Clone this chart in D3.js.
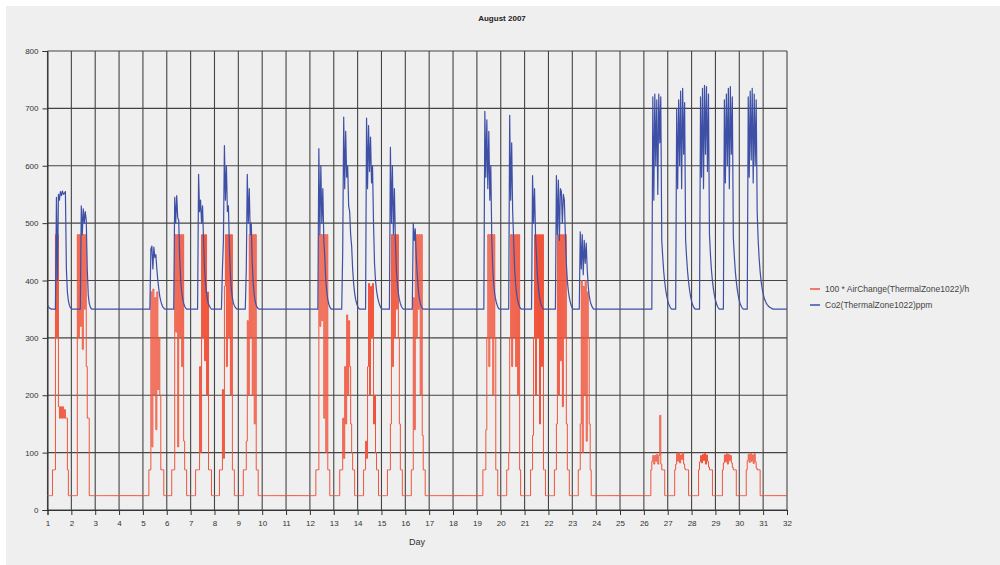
<!DOCTYPE html>
<html><head><meta charset="utf-8">
<script src="https://cdn.jsdelivr.net/npm/d3@7"></script>
<style>html,body{margin:0;padding:0;background:#fff;}svg{display:block;font-family:"Liberation Sans",Arial,sans-serif;}</style>
</head><body>
<svg id="chart" width="1000" height="565"></svg>
<script>
// ---- data ----
const title = "August 2007";
const xLabel = "Day";
const dayTicks = d3.range(1, 33);            // 1..32
const valueTicks = [0,100,200,300,400,500,600,700,800];
const seriesNames = ["100 * AirChange(ThermalZone1022)/h", "Co2(ThermalZone1022)ppm"];
const baseAir = 25;    // night level of 100*AirChange
const baseCo2 = 350;   // unoccupied CO2 level (ppm)

// occupied days, with hourly readings starting at the given hour of that day
const occupiedDays = [1,2,5,6,7,8,9,12,13,14,15,16,19,20,21,22,23,26,27,28,29,30];

const airStart = [5,6,6,5,5,5,5,6,6,6,6,6,6,6,6,6,6,7,7,7,7,7];
const airHourly = [
  [70,70,70,480,300,480,180,160,180,160,180,160,175,160,160,70],
  [480,300,480,320,480,280,480,350,480,250,160,160],
  [70,70,380,110,385,200,370,140,380,210,300,200,70,70,70],
  [70,70,70,480,310,480,110,480,300,480,250,480,120,70,70],
  [70,70,70,70,250,100,480,300,480,260,480,200,380,70,70,70],
  [70,70,70,210,90,390,480,250,480,300,480,200,480,70,70],
  [70,70,70,120,330,200,480,300,480,200,480,150,480,70,70],
  [70,70,70,480,320,480,330,480,160,480,100,480,70,70],
  [70,70,70,160,90,250,150,340,200,330,250,150,100,70,70],
  [70,70,120,90,250,395,200,390,300,395,150,200,100,70,70],
  [70,70,70,150,480,250,480,300,480,350,480,300,150,70,70],
  [70,70,370,140,480,300,480,350,480,200,480,130,70,70],
  [70,70,70,140,300,480,250,480,300,480,200,480,300,70,70],
  [70,70,100,300,480,250,480,300,480,250,480,200,480,70],
  [70,70,130,300,480,200,480,300,480,150,480,250,480,70,70],
  [70,70,150,480,200,480,260,480,180,480,300,480,150,70,70],
  [70,70,150,400,100,390,200,400,120,380,300,150,70],
  [70,85,95,80,95,85,97,80,95,165,80,70,70,70],
  [70,80,98,85,100,82,96,88,100,80,72,70,70,70],
  [70,84,95,82,97,86,99,80,96,85,75,70,70,70],
  [70,82,96,84,98,80,97,86,95,82,74,70,70,70],
  [70,86,97,83,99,85,96,81,98,84,73,70,70,70]
];

const co2Start = [0,9,7,7,7,7,7,8,8,8,8,7,7,8,7,7,7,8,8,8,8,8];
const co2Hourly = [
  [357,354,352,351,350,350,350,350,350,545,400,550,540,555,548,556,550,552,555,420,380,365,357,353,351],
  [350,530,480,525,500,520,505,420,375,360,354,351,350],
  [350,455,460,420,458,440,445,420,400,385,372,364,358,354,352,350],
  [350,545,500,548,510,505,440,400,380,368,360,355,352,350],
  [350,585,520,540,500,530,470,420,395,378,366,359,355,352,350],
  [350,420,470,635,540,600,520,530,460,410,385,370,361,356,353,351,350],
  [350,420,585,500,560,480,500,430,395,375,363,357,353,351,350],
  [350,630,480,600,500,560,470,440,400,380,367,359,354,351,350],
  [350,450,685,560,660,580,600,530,520,480,460,420,395,378,367,360,355,352,350],
  [350,683,560,670,590,650,570,600,500,430,400,383,372,364,358,354,351,350],
  [350,632,500,600,480,560,470,420,395,378,367,360,355,352,350],
  [350,500,470,490,440,410,385,370,361,355,352,350],
  [350,695,580,680,560,660,540,600,470,420,392,376,366,359,354,351,350],
  [350,688,540,640,520,470,420,393,376,366,359,354,351,350],
  [350,583,500,560,480,440,405,384,371,362,356,352,350],
  [350,583,480,575,470,560,555,500,550,540,480,430,400,382,370,362,356,352,350],
  [350,485,420,480,410,470,430,465,420,390,374,364,358,354,351,350],
  [350,720,540,725,600,715,550,725,640,720,470,440,415,397,383,373,365,359,355,352,350],
  [350,700,560,715,600,730,560,735,620,710,470,440,415,397,383,372,364,358,354,351,350],
  [350,720,580,735,560,740,620,738,590,725,480,445,418,399,385,374,366,360,355,352,350],
  [350,715,570,725,600,735,560,738,620,720,475,442,416,398,384,373,365,359,355,352,350],
  [350,720,580,730,610,735,570,725,600,715,520,470,438,415,398,386,377,370,365,361,358,356,354,353,352,351,350]
];

// ---- build hourly series from the readings ----
const nHours = 31 * 24;
function buildSeries(base, starts, hourly) {
  const vals = new Array(nHours + 1).fill(base);
  occupiedDays.forEach((d, i) => {
    hourly[i].forEach((v, k) => {
      const idx = (d - 1) * 24 + starts[i] + k;
      if (idx <= nHours) vals[idx] = v;
    });
  });
  return vals.map((v, i) => ({ t: 1 + i / 24, v }));
}
const airSeries = buildSeries(baseAir, airStart, airHourly);
const co2Series = buildSeries(baseCo2, co2Start, co2Hourly);

// ---- drawing ----
const svg = d3.select("#chart");
const W = 1000, H = 565;
svg.append("rect").attr("width", W).attr("height", H).attr("fill", "#ffffff");
svg.append("rect").attr("x", 6).attr("y", 6).attr("width", W - 6).attr("height", H - 6).attr("fill", "#efefef");

const x = d3.scaleLinear().domain([1, 32]).range([47.5, 787]);
const y = d3.scaleLinear().domain([0, 800]).range([510, 51]);

// grid
const grid = svg.append("g");
grid.selectAll("line.v").data(dayTicks).enter().append("line")
  .attr("x1", d => x(d)).attr("x2", d => x(d)).attr("y1", y(800)).attr("y2", y(0))
  .attr("stroke", "#444").attr("stroke-width", 1.1);
grid.selectAll("line.h").data(valueTicks).enter().append("line")
  .attr("x1", x(1)).attr("x2", x(32)).attr("y1", d => y(d)).attr("y2", d => y(d))
  .attr("stroke", "#444").attr("stroke-width", 1.1);

// axes
const xAxis = d3.axisBottom(x).tickValues(dayTicks).tickFormat(d3.format("d")).tickSize(5).tickPadding(5);
const yAxis = d3.axisLeft(y).tickValues(valueTicks).tickFormat(d3.format("d")).tickSize(5).tickPadding(4);
const gx = svg.append("g").attr("transform", `translate(0,${y(0)})`).call(xAxis);
const gy = svg.append("g").attr("transform", `translate(${x(1)},0)`).call(yAxis);
[gx, gy].forEach(g => {
  g.select(".domain").attr("stroke", "#333");
  g.selectAll(".tick line").attr("stroke", "#333");
  g.selectAll(".tick text").attr("fill", "#333").style("font-size", "8px").style("font-family", "Liberation Sans, Arial, sans-serif");
});

// lines
const airLine = d3.line().x(d => x(d.t)).y(d => y(d.v)).curve(d3.curveStepAfter);
const co2Line = d3.line().x(d => x(d.t)).y(d => y(d.v));
svg.append("path").datum(airSeries).attr("d", airLine)
  .attr("fill", "none").attr("stroke", "#f0533a").attr("stroke-width", 1);
svg.append("path").datum(co2Series).attr("d", co2Line)
  .attr("fill", "none").attr("stroke", "#3e4fa6").attr("stroke-width", 1.2).attr("stroke-linejoin", "round");

// title and axis label
svg.append("text").attr("x", 502).attr("y", 21).attr("text-anchor", "middle")
  .style("font-size", "8px").style("font-weight", "bold").attr("fill", "#222").text(title);
svg.append("text").attr("x", 417).attr("y", 545).attr("text-anchor", "middle")
  .style("font-size", "9px").attr("fill", "#333").text(xLabel);

// legend
const legendColors = ["#f0533a", "#3e4fa6"];
const lg = svg.append("g");
seriesNames.forEach((n, i) => {
  const ly = 289 + i * 16;
  lg.append("line").attr("x1", 810).attr("x2", 820).attr("y1", ly).attr("y2", ly)
    .attr("stroke", legendColors[i]).attr("stroke-width", 1.5);
  lg.append("text").attr("x", 825).attr("y", ly + 3).style("font-size", "8.5px").attr("fill", "#444").text(n);
});
</script>
</body></html>
